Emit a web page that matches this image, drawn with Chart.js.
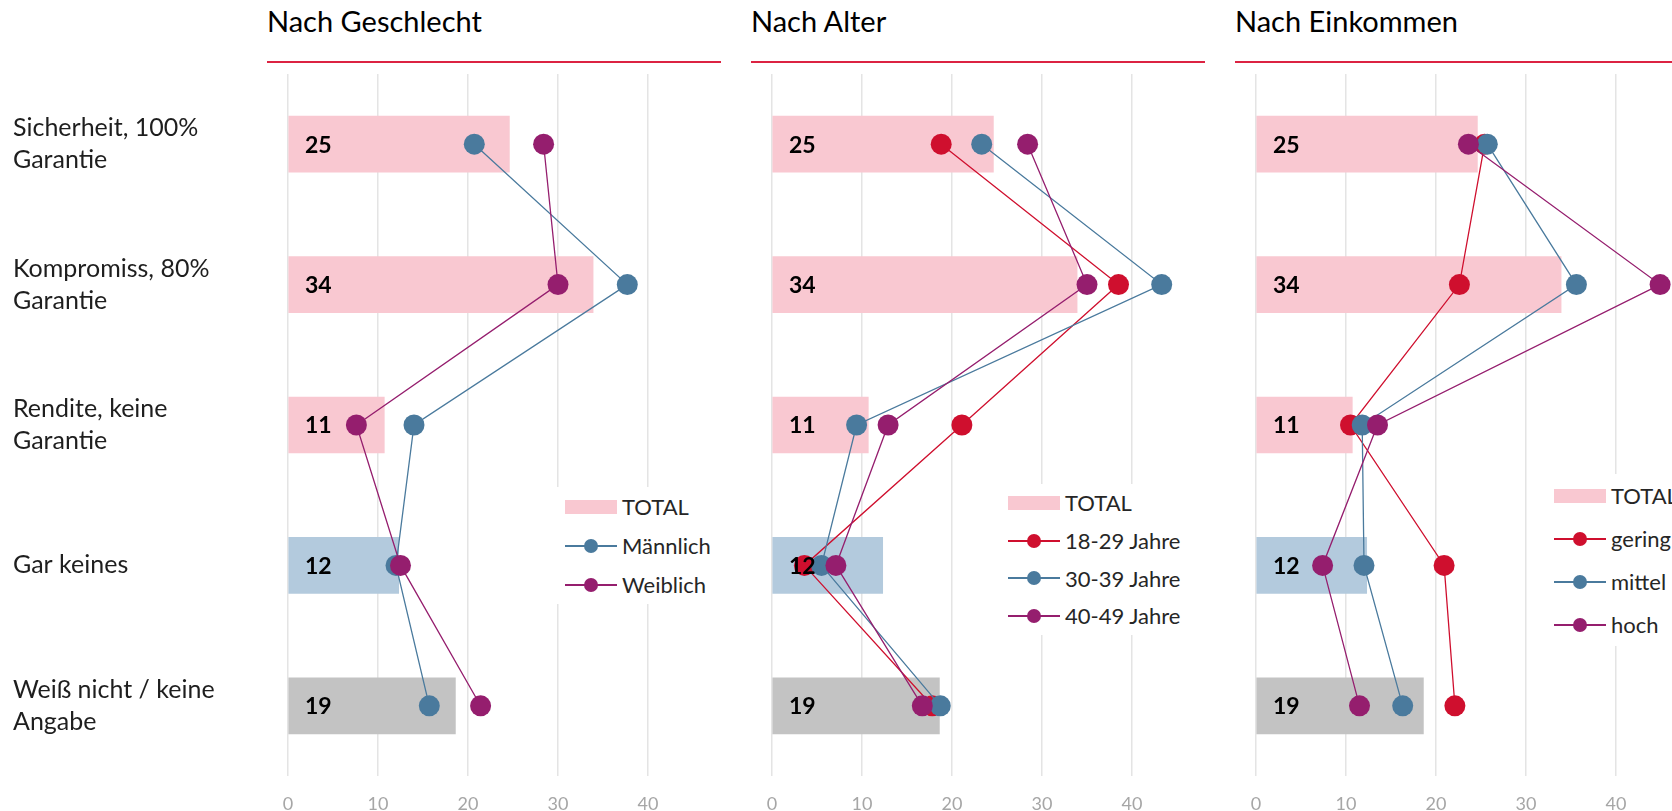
<!DOCTYPE html>
<html lang="de">
<head>
<meta charset="utf-8">
<title>Nach Geschlecht, Alter, Einkommen</title>
<script src="https://cdn.jsdelivr.net/npm/chart.js@4.4.1/dist/chart.umd.min.js"></script>
<style>
  html, body { margin: 0; padding: 0; background: #fff; }
  body { width: 1672px; height: 811px; position: relative; overflow: hidden; font-family: Lato, "Open Sans", sans-serif; }
  canvas { position: absolute; top: 0; }
  .title { position: absolute; top: 1px; font-size: 29px; line-height: 40px; color: #000; white-space: nowrap; }
  .rule { position: absolute; top: 61px; height: 2px; background: #dc2342; }
  .legend { position: absolute; background: #fff; font-size: 22px; color: #262626; z-index: 2; padding-left: 12px; }
  .legend .row { display: flex; align-items: center; white-space: nowrap; }
  .legend .mark { position: relative; width: 52px; height: 14px; margin-right: 5px; flex: none; }
  .legend .mark.line::before { content: ""; position: absolute; left: 0; right: 0; top: 6px; height: 2px; background: var(--c); }
  .legend .mark.line::after { content: ""; position: absolute; left: 19px; top: 0; width: 14px; height: 14px; border-radius: 50%; background: var(--c); }
</style>
</head>
<body>

<div class="title" style="left:267px">Nach Geschlecht</div>
<div class="title" style="left:751px">Nach Alter</div>
<div class="title" style="left:1235px">Nach Einkommen</div>
<div class="rule" style="left:267px;width:454px"></div>
<div class="rule" style="left:751px;width:454px"></div>
<div class="rule" style="left:1235px;width:437px"></div>

<canvas id="geschlecht" width="758" height="811" style="left:0px"></canvas>
<canvas id="alter" width="500" height="811" style="left:742px"></canvas>
<canvas id="einkommen" width="500" height="811" style="left:1226px"></canvas>

<script>
// categories (y axis)
const categories = [
  ['Sicherheit, 100%', 'Garantie'],
  ['Kompromiss, 80%', 'Garantie'],
  ['Rendite, keine', 'Garantie'],
  'Gar keines',
  ['Weiß nicht / keine', 'Angabe']
];
const tickValues = [0, 10, 20, 30, 40];

// TOTAL bars (same in every panel)
const total = [24.6, 33.9, 10.7, 12.3, 18.6];
const totalColors = ['#f9c8d1', '#f9c8d1', '#f9c8d1', '#b3cadd', '#c3c3c3'];

// Nach Geschlecht
const maennlich = [20.7, 37.7, 14.0, 12.0, 15.7];
const weiblich = [28.4, 30.0, 7.6, 12.5, 21.4];

// Nach Alter
const jahre1829 = [18.8, 38.5, 21.1, 3.6, 17.8];
const jahre3039 = [23.3, 43.3, 9.4, 5.5, 18.7];
const jahre4049 = [28.4, 35.0, 12.9, 7.1, 16.7];

// Nach Einkommen
const gering = [25.4, 22.6, 10.5, 20.9, 22.1];
const mittel = [25.7, 35.6, 11.8, 12.0, 16.3];
const hoch = [23.6, 44.9, 13.5, 7.4, 11.5];

const RED = '#cf0f2e', BLUE = '#4a7a9d', PURPLE = '#951e6e', PINK = '#f9c8d1';

Chart.defaults.font.family = 'Lato, "Open Sans", sans-serif';
Chart.defaults.animation = false;

// bold numbers inside the TOTAL bars
const totalLabels = {
  id: 'totalLabels',
  afterDatasetsDraw(chart) {
    const ctx = chart.ctx;
    const bars = chart.getDatasetMeta(0).data;
    const x0 = chart.scales.x.getPixelForValue(0);
    ctx.save();
    ctx.font = 'bold 23px Lato, sans-serif';
    ctx.fillStyle = '#000';
    ctx.textBaseline = 'middle';
    bars.forEach((bar, i) => {
      ctx.fillText(String(Math.round(total[i])), x0 + 17, bar.y + 1);
    });
    ctx.restore();
  }
};

function lineSet(label, data, color, order) {
  return {
    type: 'line', label, data, order,
    borderColor: color, backgroundColor: color,
    borderWidth: 1.3,
    pointRadius: 10.5, pointHoverRadius: 10.5,
    pointBackgroundColor: color, pointBorderWidth: 0,
    tension: 0, fill: false
  };
}

function makePanel(id, series, showLabels) {
  const datasets = [{
    type: 'bar', label: 'TOTAL', data: total,
    backgroundColor: totalColors, barThickness: 56, order: 10
  }];
  series.forEach((s, i) => datasets.push(lineSet(s[0], s[1], s[2], series.length - i)));

  return new Chart(document.getElementById(id), {
    type: 'bar',
    data: { labels: categories, datasets },
    options: {
      indexAxis: 'y',
      responsive: false,
      events: [],
      layout: { padding: { top: 74, bottom: 0, left: showLabels ? 13 : 30, right: 20 } },
      plugins: { legend: { display: false }, tooltip: { enabled: false } },
      scales: {
        x: {
          min: 0, max: 50,
          afterBuildTicks: axis => { axis.ticks = tickValues.map(v => ({ value: v })); },
          afterFit: axis => { axis.height = 35; },
          grid: { color: '#e4e4e4', lineWidth: 1.5, drawTicks: false },
          border: { display: false },
          ticks: { color: '#a6a6a6', font: { size: 18 }, padding: 17 }
        },
        y: {
          display: showLabels,
          afterFit: axis => { if (showLabels) axis.width = 275; },
          grid: { display: false },
          border: { display: false },
          ticks: {
            crossAlign: 'far', autoSkip: false, padding: 0,
            color: '#1e1e1e', font: { size: 25, lineHeight: 1.28 }
          }
        }
      }
    },
    plugins: [totalLabels]
  });
}

makePanel('geschlecht', [['Männlich', maennlich, BLUE], ['Weiblich', weiblich, PURPLE]], true);
makePanel('alter', [['18-29 Jahre', jahre1829, RED], ['30-39 Jahre', jahre3039, BLUE], ['40-49 Jahre', jahre4049, PURPLE]], false);
makePanel('einkommen', [['gering', gering, RED], ['mittel', mittel, BLUE], ['hoch', hoch, PURPLE]], false);

// html legends placed inside the plot areas
function legend(left, top, rowH, width, items) {
  const box = document.createElement('div');
  box.className = 'legend';
  box.style.left = left + 'px';
  box.style.top = top + 'px';
  box.style.width = width + 'px';
  items.forEach(([text, color, isBar]) => {
    const row = document.createElement('div');
    row.className = 'row';
    row.style.height = rowH + 'px';
    const mark = document.createElement('span');
    mark.className = 'mark' + (isBar ? '' : ' line');
    if (isBar) mark.style.background = color; else mark.style.setProperty('--c', color);
    row.appendChild(mark);
    row.appendChild(document.createTextNode(text));
    box.appendChild(row);
  });
  document.body.appendChild(box);
}

legend(553, 487, 39, 150, [['TOTAL', PINK, true], ['Männlich', BLUE], ['Weiblich', PURPLE]]);
legend(996, 484, 37.7, 190, [['TOTAL', PINK, true], ['18-29 Jahre', RED], ['30-39 Jahre', BLUE], ['40-49 Jahre', PURPLE]]);
legend(1542, 474, 43, 140, [['TOTAL', PINK, true], ['gering', RED], ['mittel', BLUE], ['hoch', PURPLE]]);
</script>
</body>
</html>
